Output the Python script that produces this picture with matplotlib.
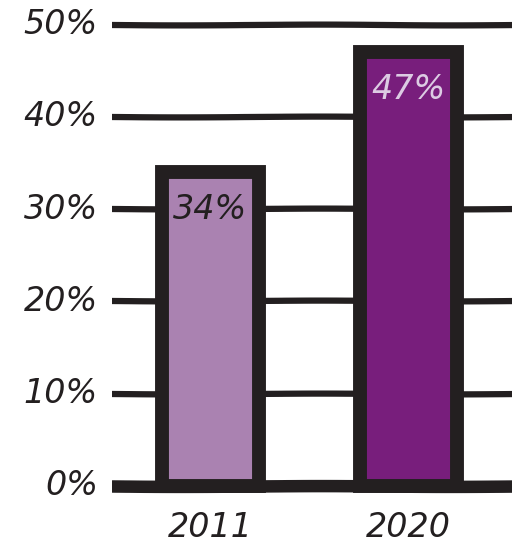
import numpy as np
import matplotlib.pyplot as plt

years = ["2011", "2020"]
shares = [34, 47]
bar_colors = ["#AA82B1", "#781E7C"]
label_colors = ["#231F20", "#DCCBE3"]
y_ticks = [0, 10, 20, 30, 40, 50]

ink = "#231F20"

fig = plt.figure(figsize=(5.12, 5.47), dpi=100)
ax = fig.add_axes([112 / 512, 53 / 547, 400 / 512, 484 / 547])

x = np.arange(len(years))

# gridlines first so the bars sit on top, with a faint wobble
for t in y_ticks:
    lw = 9 if t == 0 else 4.5
    ln = ax.axhline(t, color=ink, lw=lw, solid_capstyle="round", zorder=1)
    ln.set_sketch_params(scale=0.4, length=300, randomness=2)

bars = ax.bar(x, shares, width=0.49, color=bar_colors, edgecolor=ink,
              linewidth=10, joinstyle="miter", zorder=2)

for xi, v, c in zip(x, shares, label_colors):
    ax.text(xi, v - 2.2, f"{v}%", ha="center", va="top", fontsize=24,
            color=c, fontstyle="italic", family="DejaVu Sans", zorder=3)

ax.set_xlim(-0.495, 1.525)
ax.set_ylim(-0.9, 51.6)

for t in y_ticks:
    ax.text(-0.035, t, f"{t}%", transform=ax.get_yaxis_transform(),
            ha="right", va="center", fontsize=24, fontstyle="italic",
            color=ink, family="DejaVu Sans")

for xi, yr in zip(x, years):
    ax.text(xi, -4.5, yr, ha="center", va="center", fontsize=24,
            fontstyle="italic", color=ink, family="DejaVu Sans", clip_on=False)

ax.set_xticks([])
ax.set_yticks([])
for s in ax.spines.values():
    s.set_visible(False)

fig.savefig("out.png", dpi=100)
